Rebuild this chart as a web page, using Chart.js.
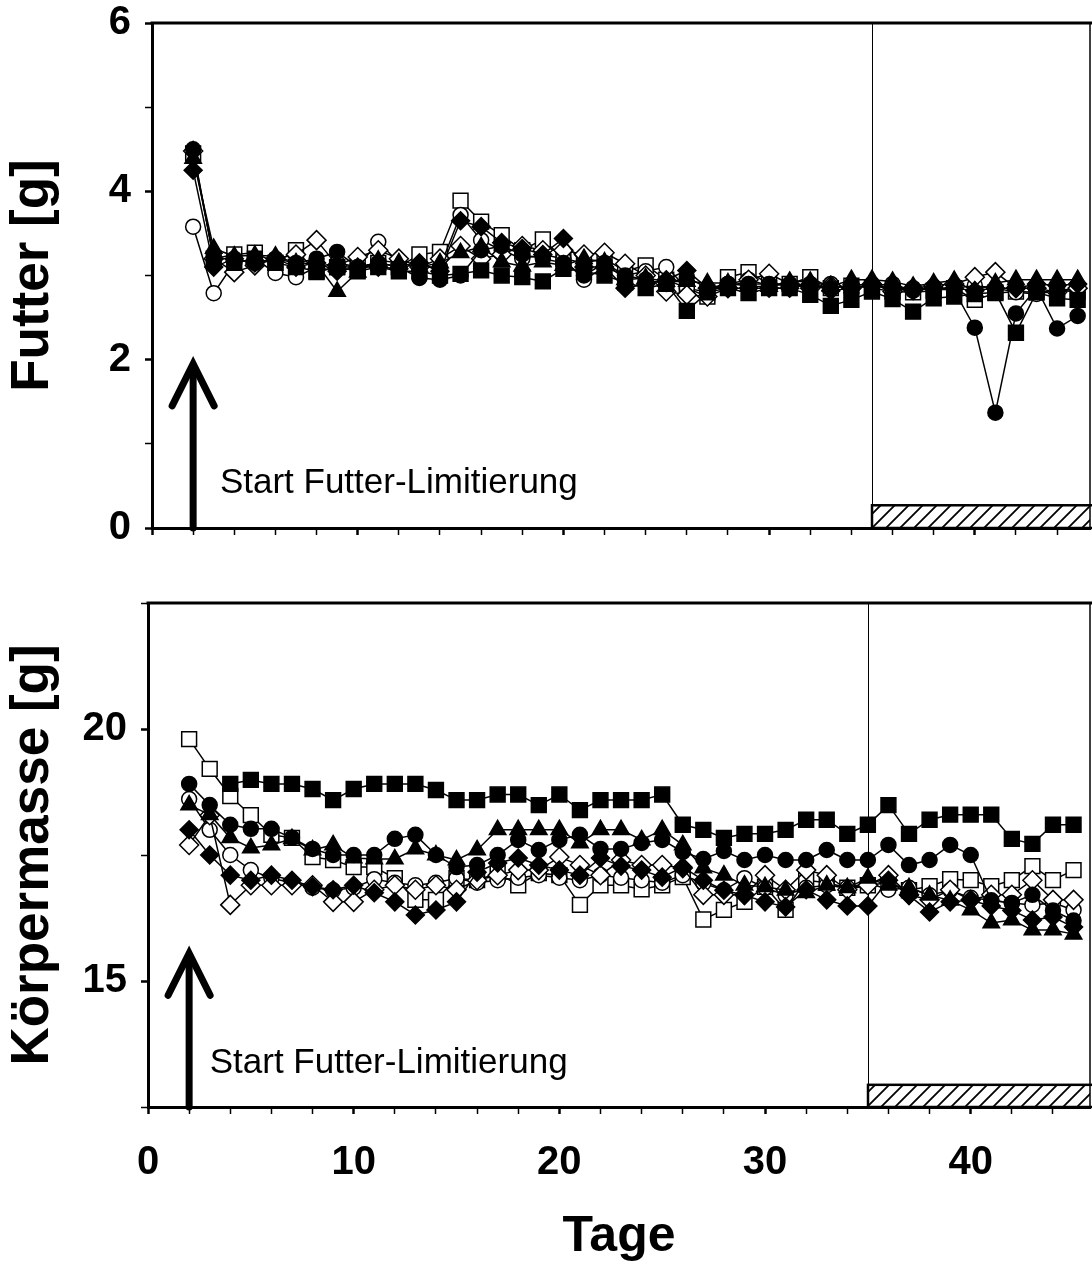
<!DOCTYPE html>
<html>
<head>
<meta charset="utf-8">
<script src="https://cdn.jsdelivr.net/npm/chart.js@4.4.1/dist/chart.umd.min.js"></script>
<style>
  html, body { margin: 0; padding: 0; background: #fff; }
  body { width: 1092px; height: 1264px; overflow: hidden; position: relative; }
  canvas { position: absolute; left: 0; }
  #futter { top: 0; }
  #masse { top: 560px; }
</style>
</head>
<body>
<canvas id="futter" width="1092" height="560"></canvas>
<canvas id="masse" width="1092" height="704"></canvas>
<script>
// days of the experiment (x axis)
const days = [2, 3, 4, 5, 6, 7, 8, 9, 10, 11, 12, 13, 14, 15, 16, 17, 18, 19, 20, 21, 22, 23,
              24, 25, 26, 27, 28, 29, 30, 31, 32, 33, 34, 35, 36, 37, 38, 39, 40, 41, 42, 43, 44, 45];

// Futter [g] per group
const futterSqFilled  = [null, null, 3.15, 3.20, 3.15, 3.10, 3.05, 3.10, 3.05, 3.10, 3.05, 3.05, 3.00, 3.02, 3.06, 3.00, 2.98, 2.93, 3.08, 3.05, 3.00, 2.92,
                         2.85, 2.90, 2.58, 2.80, 2.85, 2.79, 2.85, 2.85, 2.77, 2.64, 2.71, 2.81, 2.72, 2.57, 2.73, 2.75, 2.78, 2.80, 2.32, 2.80, 2.73, 2.71];
const futterSqOpen    = [4.45, 3.20, 3.25, 3.27, 3.15, 3.30, 3.04, 3.10, 3.10, 3.15, 3.10, 3.25, 3.28, 3.89, 3.64, 3.48, 3.30, 3.43, 3.20, 3.15, 3.20, 3.05,
                         3.12, 2.95, 2.85, 2.75, 2.98, 3.04, 2.90, 2.90, 2.98, 2.85, 2.88, 2.85, 2.81, 2.80, 2.82, 2.85, 2.71, 2.79, 2.81, 2.80, 2.82, 2.81];
const futterCirFilled = [4.50, 3.20, 3.20, 3.15, 3.20, 3.15, 3.20, 3.28, 3.10, 3.15, 3.10, 2.97, 2.95, 3.00, 3.30, 3.35, 3.25, 3.20, 3.15, 3.00, 3.15, 3.00,
                         2.95, 2.90, 2.98, 2.85, 2.90, 2.90, 2.90, 2.88, 2.90, 2.85, 2.88, 2.90, 2.85, 2.85, 2.85, 2.82, 2.38, 1.37, 2.55, 2.85, 2.37, 2.52];
const futterCirOpen   = [3.58, 2.79, 3.15, 3.20, 3.03, 2.98, 3.10, 3.15, 3.10, 3.40, 3.15, 3.10, 3.10, 3.72, 3.42, 3.30, 3.20, 3.25, 3.20, 2.95, 3.10, 3.00,
                         3.05, 3.10, 2.85, 2.80, 2.90, 2.95, 2.88, 2.90, 2.85, 2.90, 2.85, 2.88, 2.90, 2.82, 2.85, 2.85, 2.88, 2.85, 2.80, 2.78, 2.82, 2.85];
const futterTri       = [4.39, 3.32, 3.23, 3.24, 3.23, 3.15, 3.14, 2.81, 3.04, 3.18, 3.15, 3.10, 3.15, 3.27, 3.34, 3.16, 3.11, 3.16, 3.12, 3.20, 3.16, 2.95,
                         2.97, 2.93, 2.93, 2.91, 2.91, 2.87, 2.87, 2.93, 2.93, 2.87, 2.95, 2.95, 2.93, 2.87, 2.91, 2.94, 2.81, 2.91, 2.95, 2.95, 2.95, 2.95];
const futterDiaFilled = [4.25, 3.10, 3.20, 3.15, 3.20, 3.10, 3.15, 3.05, 3.10, 3.10, 3.08, 3.15, 3.05, 3.65, 3.58, 3.39, 3.32, 3.25, 3.44, 3.10, 3.10, 2.85,
                         2.90, 2.95, 3.06, 2.85, 2.85, 2.85, 2.85, 2.85, 2.90, 2.82, 2.85, 2.88, 2.85, 2.82, 2.85, 2.85, 2.82, 2.85, 2.85, 2.90, 2.88, 2.90];
const futterDiaOpen   = [4.48, 3.20, 3.04, 3.12, 3.20, 3.25, 3.42, 3.12, 3.22, 3.30, 3.20, 3.10, 3.20, 3.35, 3.20, 3.25, 3.35, 3.30, 3.30, 3.25, 3.27, 3.14,
                         3.00, 2.81, 2.77, 2.75, 2.85, 2.95, 3.02, 2.90, 2.85, 2.88, 2.85, 2.90, 2.81, 2.85, 2.88, 2.90, 2.98, 3.04, 2.85, 2.85, 2.80, 2.85];

// Körpermasse [g] per group
const masseSqFilled  = [null, null, 18.91, 18.99, 18.91, 18.91, 18.81, 18.59, 18.81, 18.91, 18.91, 18.91, 18.79, 18.59, 18.59, 18.70, 18.70, 18.49, 18.70, 18.39, 18.59, 18.59,
                        18.59, 18.70, 18.10, 18.00, 17.84, 17.92, 17.92, 18.00, 18.20, 18.20, 17.92, 18.10, 18.49, 17.92, 18.20, 18.30, 18.30, 18.30, 17.82, 17.72, 18.10, 18.10];
const masseSqOpen    = [19.80, 19.21, 18.67, 18.29, 17.90, 17.84, 17.46, 17.40, 17.26, 17.26, 17.04, 16.61, 16.61, 17.04, 17.00, 17.14, 16.90, 17.14, 17.10, 16.51, 16.90, 16.90,
                        16.82, 16.90, 17.06, 16.22, 16.41, 16.57, 16.87, 16.41, 17.00, 16.95, 16.85, 16.90, 16.95, 16.80, 16.88, 17.02, 17.00, 16.88, 17.00, 17.28, 17.00, 17.20];
const masseCirFilled = [18.91, 18.49, 18.10, 18.02, 18.02, 17.84, 17.62, 17.50, 17.50, 17.50, 17.82, 17.90, 17.50, 17.26, 17.30, 17.50, 17.80, 17.60, 17.80, 17.90, 17.62, 17.62,
                        17.74, 17.80, 17.56, 17.42, 17.58, 17.40, 17.50, 17.40, 17.40, 17.60, 17.40, 17.40, 17.70, 17.30, 17.40, 17.70, 17.50, 16.60, 16.55, 16.71, 16.40, 16.20];
const masseCirOpen   = [18.61, 18.00, 17.50, 17.20, 17.04, 16.95, 16.85, 16.80, 16.85, 17.02, 16.95, 16.90, 16.95, 17.04, 16.95, 17.00, 17.05, 17.10, 17.05, 17.00, 17.10, 17.05,
                        17.00, 16.95, 17.10, 16.94, 16.80, 17.04, 16.85, 16.70, 16.85, 16.90, 16.85, 16.95, 16.81, 16.85, 16.70, 16.80, 16.65, 16.60, 16.55, 16.51, 16.55, 16.41];
const masseTri       = [18.49, 18.30, 17.84, 17.64, 17.70, 17.82, 17.60, 17.70, 17.44, 17.42, 17.42, 17.62, 17.50, 17.40, 17.60, 18.00, 18.00, 18.00, 18.00, 17.74, 18.00, 18.00,
                        17.80, 18.00, 17.70, 17.24, 17.10, 16.90, 16.87, 16.80, 16.75, 16.90, 16.85, 17.04, 16.90, 16.85, 16.70, 16.60, 16.41, 16.15, 16.21, 16.01, 16.01, 15.93];
const masseDiaFilled = [18.00, 17.50, 17.10, 17.00, 17.10, 17.00, 16.87, 16.81, 16.90, 16.75, 16.57, 16.31, 16.41, 16.57, 17.16, 17.34, 17.44, 17.30, 17.20, 17.10, 17.44, 17.28,
                        17.20, 17.06, 17.26, 17.00, 16.80, 16.70, 16.57, 16.47, 16.81, 16.61, 16.49, 16.49, 17.00, 16.70, 16.37, 16.57, 16.60, 16.49, 16.40, 16.21, 16.27, 16.07];
const masseDiaOpen   = [17.70, 18.29, 16.51, 16.90, 16.90, 16.90, 16.90, 16.57, 16.57, 16.81, 16.90, 16.81, 16.90, 16.81, 17.00, 17.10, 17.20, 17.20, 17.46, 17.30, 17.10, 17.40,
                        17.30, 17.30, 17.24, 16.71, 16.71, 16.71, 17.10, 16.81, 17.20, 17.10, 16.81, 16.90, 17.10, 16.71, 16.61, 16.81, 16.61, 16.71, 16.71, 17.00, 16.61, 16.61];

// tick labels
const futterTickLabels = [0, 2, 4, 6];
const masseTickLabels = [15, 20];
const dayTickLabels = [0, 10, 20, 30, 40];

const FONT = "'Liberation Sans', Arial, Helvetica, sans-serif";

// marker look of each group, first one is drawn on top
const markers = [
  { name: 'tri',     style: 'triangle', fill: '#000', r: 9.5 },
  { name: 'diaFill', style: 'rectRot',  fill: '#000', r: 9 },
  { name: 'cirFill', style: 'circle',   fill: '#000', r: 7.5 },
  { name: 'sqFill',  style: 'rect',     fill: '#000', r: 10.5 },
  { name: 'diaOpen', style: 'rectRot',  fill: '#fff', r: 9.5 },
  { name: 'cirOpen', style: 'circle',   fill: '#fff', r: 7.5 },
  { name: 'sqOpen',  style: 'rect',     fill: '#fff', r: 10.5 }
];

function buildDatasets(values) {
  return markers.map(m => ({
    label: m.name,
    data: days.map((d, i) => ({ x: d, y: values[m.name][i] })),
    borderColor: '#000',
    borderWidth: 1.5,
    pointStyle: m.style,
    pointRadius: m.r,
    pointBackgroundColor: m.fill,
    pointBorderColor: '#000',
    pointBorderWidth: 1.5,
    fill: false,
    tension: 0,
    spanGaps: false
  }));
}

function hatch(ctx) {
  const c = document.createElement('canvas');
  c.width = 14; c.height = 14;
  const p = c.getContext('2d');
  p.strokeStyle = '#000';
  p.lineWidth = 1.8;
  p.beginPath();
  p.moveTo(0, 14); p.lineTo(14, 0);
  p.moveTo(-2, 2); p.lineTo(2, -2);
  p.moveTo(12, 16); p.lineTo(16, 12);
  p.stroke();
  return ctx.createPattern(c, 'repeat');
}

// phase line, hatched bar, arrow and note
const panelDecor = {
  id: 'panelDecor',
  beforeDatasetsDraw(chart, args, opt) {
    const { ctx, chartArea: a, scales: { x, y } } = chart;
    ctx.save();
    const xs = Math.round(x.getPixelForValue(opt.phaseStart));
    const yb = y.getPixelForValue(opt.barTop);
    ctx.fillStyle = hatch(ctx);
    ctx.fillRect(xs, yb, a.right - xs, a.bottom - yb);
    ctx.strokeStyle = '#000';
    ctx.lineWidth = 2.5;
    ctx.strokeRect(xs, yb, a.right - xs + 4, a.bottom - yb);
    ctx.lineWidth = 1;
    ctx.beginPath();
    ctx.moveTo(xs + 0.5, a.top);
    ctx.lineTo(xs + 0.5, yb);
    ctx.stroke();

    // arrow
    const ax = x.getPixelForValue(opt.arrowDay);
    const tip = y.getPixelForValue(opt.arrowTip);
    ctx.lineWidth = 7;
    ctx.lineCap = 'round';
    ctx.lineJoin = 'miter';
    ctx.beginPath();
    ctx.moveTo(ax, a.bottom);
    ctx.lineTo(ax, tip + 2);
    ctx.stroke();
    ctx.beginPath();
    ctx.moveTo(ax - 21, tip + 42);
    ctx.lineTo(ax, tip);
    ctx.lineTo(ax + 21, tip + 42);
    ctx.stroke();

    ctx.fillStyle = '#000';
    ctx.font = '35px ' + FONT;
    ctx.textBaseline = 'alphabetic';
    ctx.textAlign = 'left';
    ctx.fillText('Start Futter-Limitierung', x.getPixelForValue(opt.noteDay), y.getPixelForValue(opt.noteY));
    ctx.restore();
  },
  afterDraw(chart) {
    const { ctx, chartArea: a } = chart;
    ctx.save();
    ctx.strokeStyle = '#000';
    ctx.lineWidth = 3;
    ctx.beginPath();
    ctx.moveTo(a.left - 1.5, a.top);
    ctx.lineTo(a.right + 2, a.top);
    ctx.stroke();
    ctx.lineWidth = 1.5;
    ctx.beginPath();
    ctx.moveTo(a.right, a.top);
    ctx.lineTo(a.right, a.bottom);
    ctx.stroke();
    ctx.restore();
  }
};

function makePanel(id, values, cfg) {
  return new Chart(document.getElementById(id), {
    type: 'line',
    data: { datasets: buildDatasets(values) },
    plugins: [panelDecor],
    options: {
      responsive: false,
      animation: false,
      devicePixelRatio: 1,
      layout: { autoPadding: false, padding: { top: cfg.padTop, right: 2, left: 0, bottom: 0 } },
      plugins: {
        legend: { display: false },
        tooltip: { enabled: false },
        panelDecor: cfg.decor
      },
      scales: {
        x: {
          type: 'linear',
          min: 0,
          max: cfg.xMax,
          ticks: {
            display: cfg.showDays,
            stepSize: 2,
            includeBounds: false,
            autoSkip: false,
            maxRotation: 0,
            padding: 25,
            color: '#000',
            font: { family: FONT, size: 40, weight: 'bold' },
            callback: v => dayTickLabels.includes(v) ? v : ''
          },
          grid: { drawOnChartArea: false, tickLength: 7, tickColor: '#000',
                  tickWidth: c => (c.tick && c.tick.value % 10 === 0) ? 2.5 : 1.5 },
          border: { color: '#000', width: 3 },
          title: {
            display: cfg.showDays,
            text: 'Tage',
            color: '#000',
            font: { family: FONT, size: 50, weight: 'bold', lineHeight: 1 },
            padding: { top: 0, bottom: 1.5 }
          },
          afterFit: s => { s.height = cfg.xHeight; s.paddingLeft = 0; s.paddingRight = 0; }
        },
        y: {
          min: cfg.yMin,
          max: cfg.yMax,
          ticks: {
            stepSize: cfg.yStep,
            padding: 14,
            color: '#000',
            font: { family: FONT, size: 40, weight: 'bold' },
            callback: v => cfg.yLabels.includes(v) ? v : ''
          },
          grid: { drawOnChartArea: false, tickLength: 7, tickColor: '#000',
                  tickWidth: c => (c.tick && cfg.yLabels.includes(c.tick.value)) ? 2.5 : 1.5 },
          border: { color: '#000', width: 3 },
          title: {
            display: true,
            text: cfg.yTitle,
            color: '#000',
            font: { family: FONT, size: 53, weight: 'bold', lineHeight: 1 },
            padding: { top: 7, bottom: 0 }
          },
          afterFit: s => { s.width = cfg.yWidth; s.paddingTop = 0; s.paddingBottom = 0; }
        }
      }
    }
  });
}

makePanel('futter', {
  tri: futterTri, diaFill: futterDiaFilled, cirFill: futterCirFilled, sqFill: futterSqFilled,
  diaOpen: futterDiaOpen, cirOpen: futterCirOpen, sqOpen: futterSqOpen
}, {
  padTop: 23, xMax: 45.6, xHeight: 32, yWidth: 152, showDays: false,
  yMin: 0, yMax: 6, yStep: 1, yLabels: futterTickLabels, yTitle: 'Futter [g]',
  decor: { phaseStart: 35, barTop: 0.27, arrowDay: 2, arrowTip: 1.95, noteDay: 3.3, noteY: 0.42 }
});

makePanel('masse', {
  tri: masseTri, diaFill: masseDiaFilled, cirFill: masseCirFilled, sqFill: masseSqFilled,
  diaOpen: masseDiaOpen, cirOpen: masseCirOpen, sqOpen: masseSqOpen
}, {
  padTop: 43, xMax: 45.8, xHeight: 157, yWidth: 148, showDays: true,
  yMin: 12.5, yMax: 22.5, yStep: 2.5, yLabels: masseTickLabels, yTitle: 'Körpermasse [g]',
  decor: { phaseStart: 35, barTop: 12.94, arrowDay: 2, arrowTip: 15.55, noteDay: 3.0, noteY: 13.17 }
});
</script>
</body>
</html>
